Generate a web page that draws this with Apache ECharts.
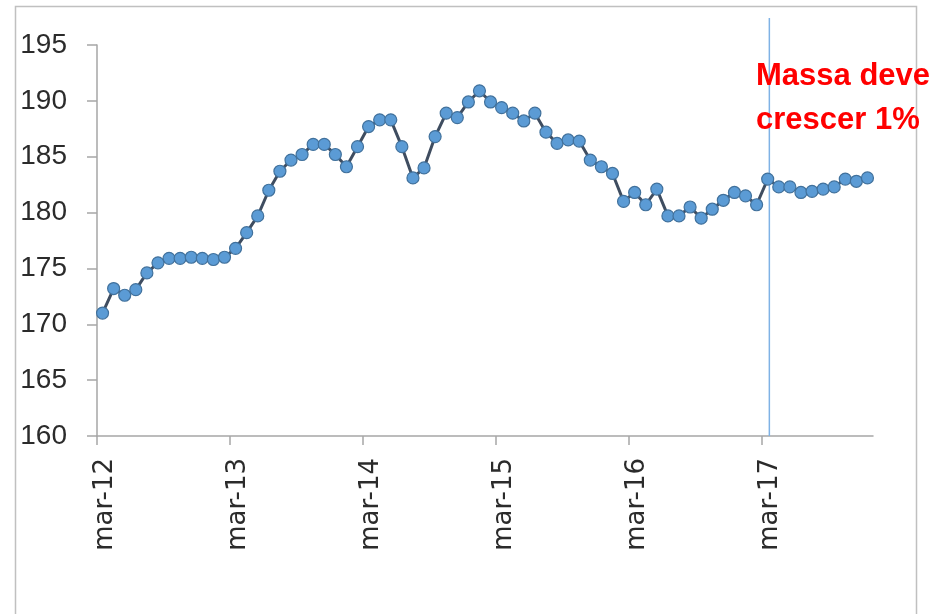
<!DOCTYPE html>
<html><head><meta charset="utf-8">
<script src="https://cdn.jsdelivr.net/npm/echarts@6/dist/echarts.min.js"></script>
<style>html,body{margin:0;padding:0;background:#fff}#c{width:941px;height:614px}</style>
</head><body><div id="c"></div>
<script>
// Monthly series, mar-12 .. dec-17 (70 months)
const values = [
  171.0, 173.2, 172.6, 173.1, 174.6, 175.5, 175.9, 175.9, 176.0, 175.9, 175.8, 176.0,
  176.8, 178.2, 179.7, 182.0, 183.7, 184.7, 185.2, 186.1, 186.1, 185.2, 184.1, 185.9,
  187.7, 188.3, 188.3, 185.9, 183.1, 184.0, 186.8, 188.9, 188.5, 189.9, 190.9, 189.9,
  189.4, 188.9, 188.2, 188.9, 187.2, 186.2, 186.5, 186.4, 184.7, 184.1, 183.5, 181.0,
  181.8, 180.7, 182.1, 179.7, 179.7, 180.5, 179.5, 180.3, 181.1, 181.8, 181.5, 180.7,
  183.0, 182.3, 182.3, 181.8, 181.9, 182.1, 182.3, 183.0, 182.8, 183.1
];
const tickLabels = ['mar-12', 'mar-13', 'mar-14', 'mar-15', 'mar-16', 'mar-17'];
const tickMonthIndex = [0, 12, 24, 36, 48, 60];
const yMin = 160, yMax = 195, yStep = 5;
const annotationMonth = 60.65;
const annotationText = 'Massa deve\ncrescer 1%';

const labelShift = 0.75;
const seriesData = values.map((v, i) => [i + 0.5, v]);

const chart = echarts.init(document.getElementById('c'), null, {renderer: 'canvas'});
const axisGray = '#a6a6a6';
chart.setOption({
  animation: false,
  backgroundColor: '#ffffff',
  grid: [
    {left: 97, right: 68, top: 45, bottom: 178},
    {left: 97, right: 68, top: 18, bottom: 178}
  ],
  xAxis: [
    {
      type: 'value', gridIndex: 0, min: 0, max: values.length,
      splitLine: {show: false},
      axisLine: {show: true, onZero: false, lineStyle: {color: axisGray, width: 1.5}},
      axisTick: {show: true, length: 9, lineStyle: {color: axisGray, width: 1.5},
        customValues: tickMonthIndex},
      axisLabel: {
        show: true, rotate: 90, margin: 22,
        customValues: tickMonthIndex.map(t => t + labelShift),
        formatter: v => {
          const k = tickMonthIndex.findIndex(t => Math.abs(t + labelShift - v) < 1e-6);
          return k >= 0 ? tickLabels[k] : '';
        },
        fontFamily: 'DejaVu Sans', fontSize: 26, color: '#2b2b2b'
      }
    },
    {type: 'value', gridIndex: 1, min: 0, max: values.length, show: false}
  ],
  yAxis: [
    {
      type: 'value', gridIndex: 0, min: yMin, max: yMax, interval: yStep,
      splitLine: {show: false},
      axisLine: {show: true, lineStyle: {color: axisGray, width: 1.5}},
      axisTick: {show: true, length: 10, lineStyle: {color: axisGray, width: 1.5}},
      axisLabel: {margin: 30, fontFamily: 'Liberation Sans', fontSize: 28, color: '#2b2b2b'}
    },
    {type: 'value', gridIndex: 1, min: 0, max: 1, show: false}
  ],
  series: [
    {
      type: 'line', xAxisIndex: 1, yAxisIndex: 1, z: 1,
      data: [[annotationMonth, 0], [annotationMonth, 1]],
      symbol: 'none', silent: true,
      lineStyle: {color: '#7fb2e5', width: 1.5}
    },
    {
      type: 'line', xAxisIndex: 0, yAxisIndex: 0, z: 3,
      data: seriesData,
      symbol: 'circle', symbolSize: 12,
      lineStyle: {color: '#3f4d60', width: 3},
      itemStyle: {color: '#5b9bd5', borderColor: '#41719c', borderWidth: 1.2}
    }
  ],
  graphic: [
    {type: 'rect', z: 0, silent: true,
      shape: {x: 15.5, y: 6.5, width: 901, height: 700},
      style: {fill: 'none', stroke: '#c0c0c0', lineWidth: 1.5}},
    {type: 'text', z: 10, left: 756, top: 54, silent: true,
      style: {text: annotationText, fill: '#ff0000', font: 'bold 31px "Liberation Sans"',
        lineHeight: 44}}
  ]
});
</script></body></html>
